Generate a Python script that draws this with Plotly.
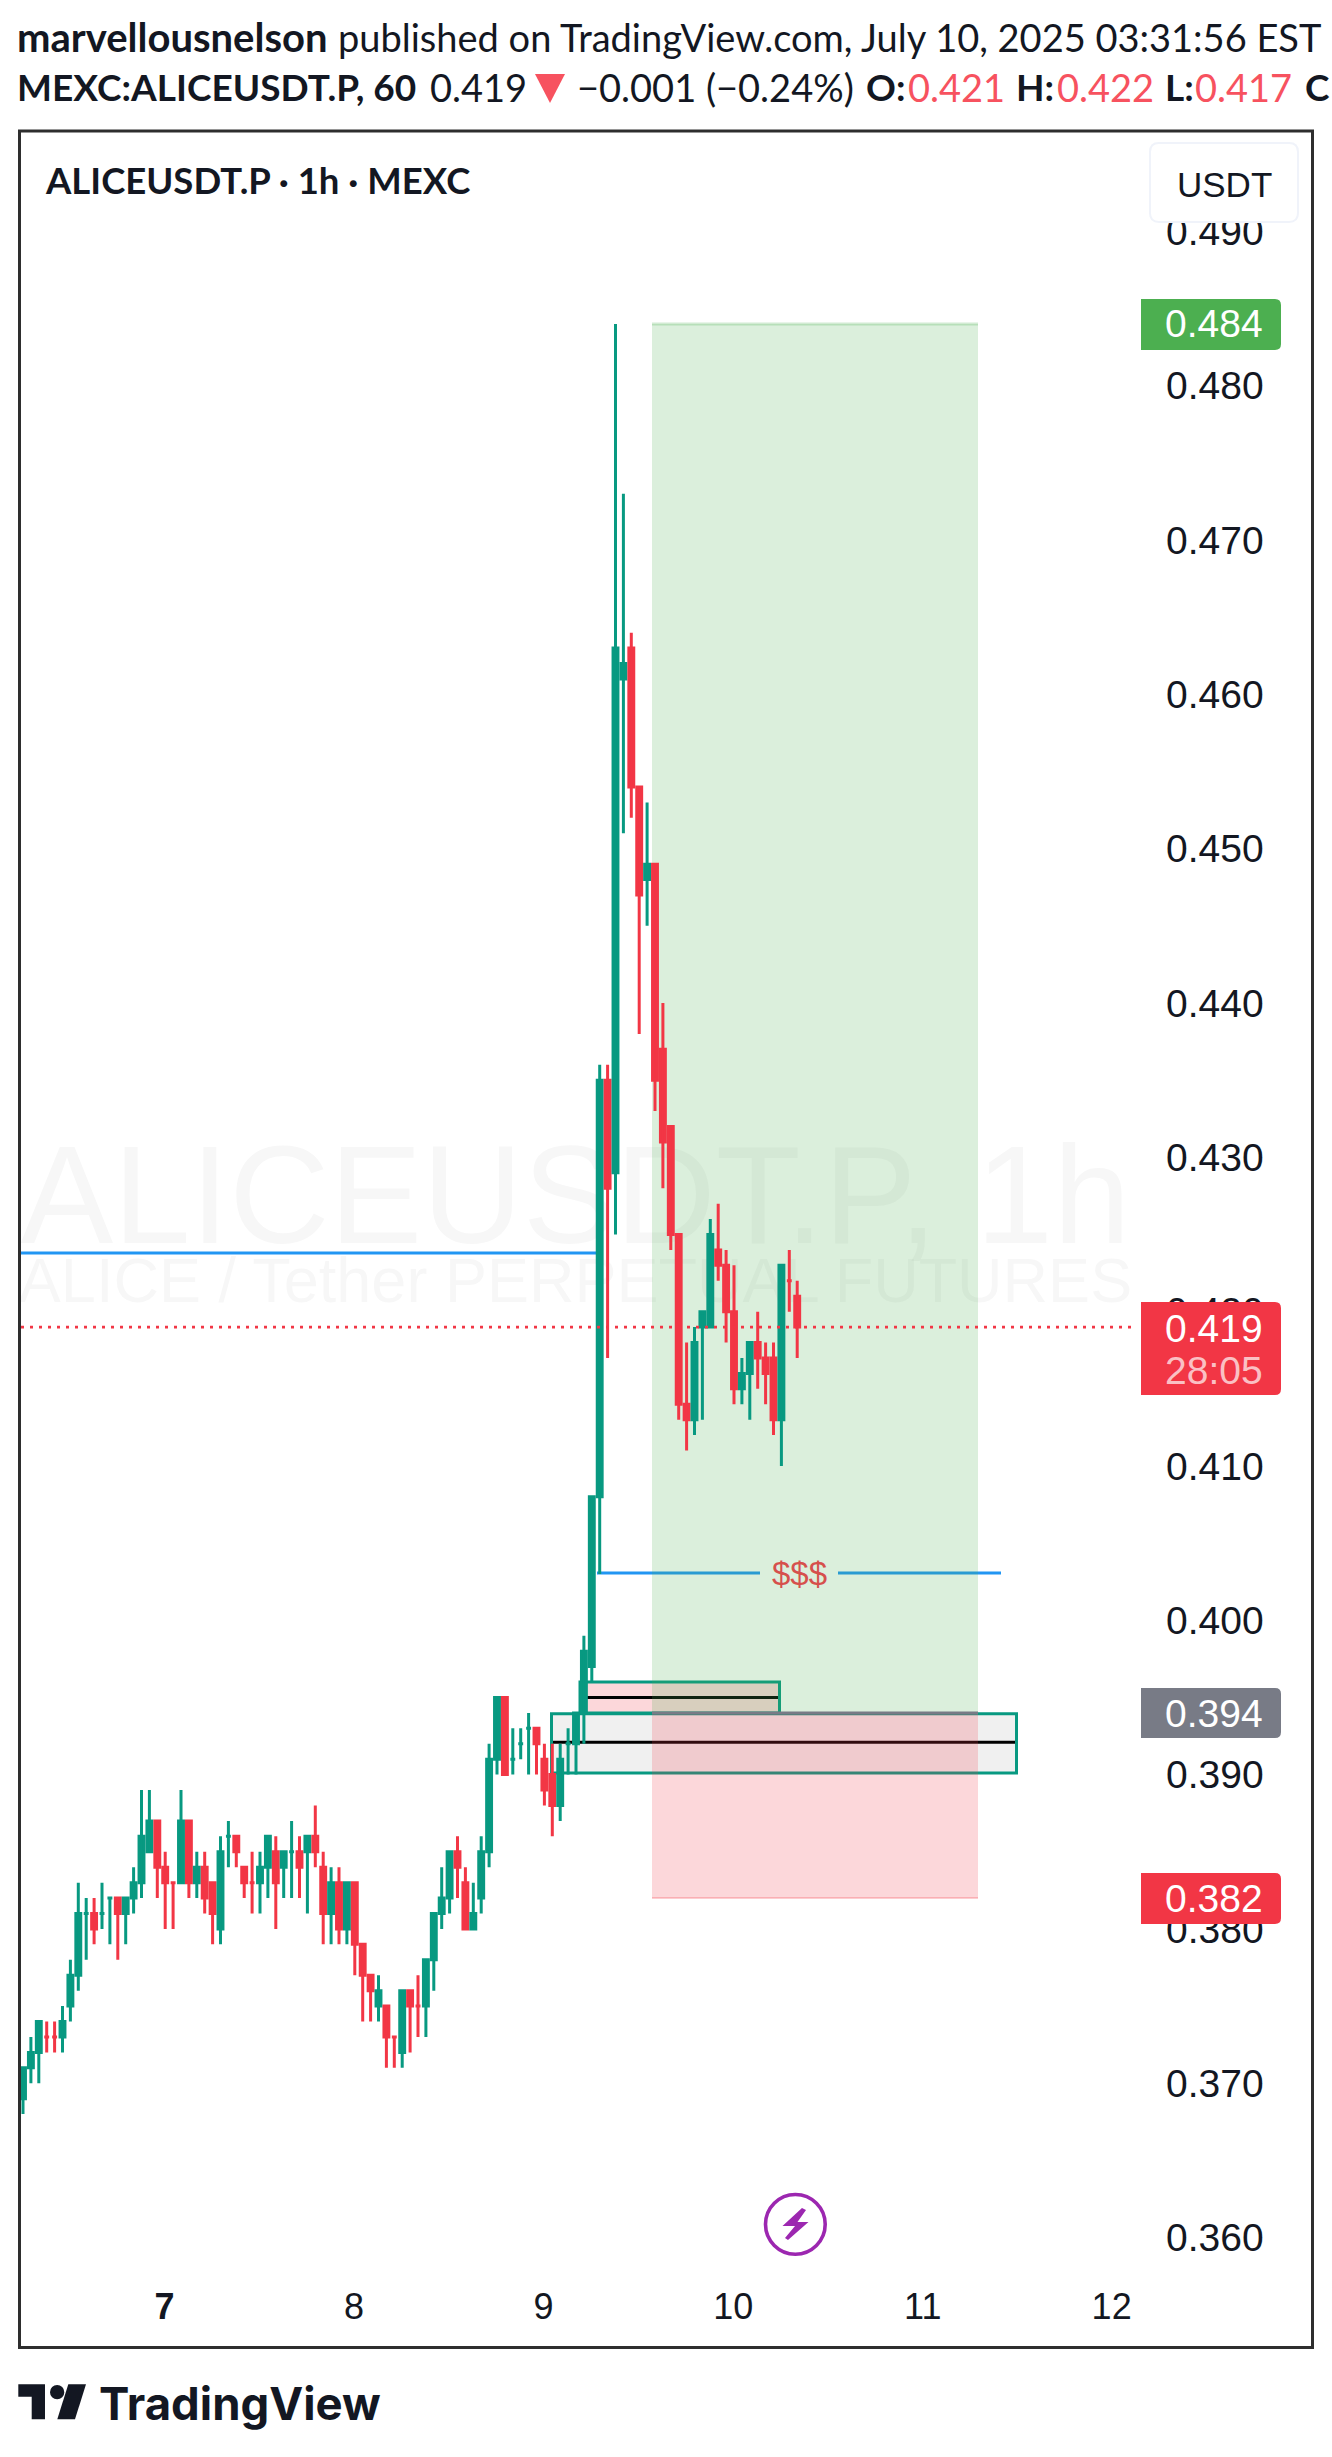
import plotly.graph_objects as go

W, H = 1332, 2457

opens = [0.369,0.371,0.372,0.373,0.373,0.373,0.375,0.377,0.381,0.381,0.381,0.382,0.382,0.381,0.382,0.383,0.385,0.387,0.384,0.383,
         0.383,0.387,0.383,0.384,0.383,0.380,0.386,0.386,0.384,0.383,0.383,0.384,0.385,0.384,0.385,0.385,0.385,0.386,0.384,0.381,
         0.383,0.380,0.383,0.379,0.377,0.375,0.375,0.373,0.372,0.376,0.375,0.375,0.378,0.381,0.382,0.385,0.383,0.380,0.382,0.385,
         0.391,0.395,0.391,0.392,0.393,0.393,0.391,0.390,0.388,0.392,0.392,0.394,0.397,0.408,0.435,0.429,0.461,0.463,0.454,0.448,
         0.449,0.437,0.432,0.425,0.414,0.413,0.419,0.419,0.424,0.423,0.420,0.415,0.416,0.418,0.417,0.417,0.413,0.422,0.421]
highs = [0.371,0.373,0.374,0.374,0.374,0.375,0.378,0.383,0.382,0.382,0.383,0.382,0.382,0.382,0.384,0.389,0.389,0.387,0.385,0.383,
         0.389,0.387,0.385,0.385,0.383,0.386,0.387,0.386,0.384,0.385,0.385,0.386,0.386,0.385,0.387,0.386,0.386,0.388,0.385,0.384,
         0.384,0.383,0.383,0.379,0.377,0.377,0.375,0.373,0.376,0.376,0.377,0.378,0.381,0.384,0.385,0.386,0.384,0.383,0.386,0.392,
         0.395,0.395,0.393,0.393,0.394,0.393,0.392,0.392,0.392,0.393,0.394,0.399,0.408,0.436,0.436,0.484,0.473,0.464,0.454,0.453,
         0.449,0.440,0.432,0.425,0.418,0.419,0.420,0.426,0.427,0.424,0.423,0.417,0.418,0.420,0.418,0.418,0.423,0.424,0.422]
lows = [0.368,0.370,0.370,0.372,0.372,0.372,0.374,0.376,0.378,0.379,0.380,0.379,0.378,0.379,0.381,0.382,0.385,0.382,0.380,0.380,
        0.383,0.382,0.382,0.381,0.379,0.379,0.384,0.384,0.382,0.381,0.381,0.382,0.380,0.382,0.382,0.382,0.381,0.384,0.379,0.379,
        0.379,0.379,0.377,0.374,0.374,0.374,0.371,0.371,0.371,0.372,0.373,0.373,0.376,0.380,0.381,0.382,0.380,0.380,0.381,0.384,
        0.390,0.390,0.390,0.391,0.390,0.390,0.388,0.386,0.387,0.390,0.390,0.392,0.396,0.403,0.417,0.425,0.451,0.452,0.438,0.445,
        0.433,0.428,0.424,0.413,0.411,0.412,0.413,0.419,0.422,0.418,0.414,0.414,0.413,0.415,0.414,0.412,0.410,0.420,0.417]
closes = [0.371,0.372,0.374,0.373,0.373,0.374,0.377,0.381,0.381,0.380,0.381,0.382,0.381,0.382,0.383,0.386,0.387,0.384,0.383,0.383,
          0.387,0.383,0.384,0.382,0.381,0.385,0.386,0.385,0.383,0.383,0.384,0.386,0.383,0.385,0.385,0.384,0.386,0.385,0.381,0.383,
          0.380,0.383,0.379,0.377,0.376,0.376,0.373,0.373,0.376,0.375,0.375,0.378,0.381,0.382,0.385,0.384,0.380,0.381,0.385,0.391,
          0.395,0.390,0.391,0.392,0.393,0.392,0.389,0.388,0.391,0.392,0.394,0.398,0.408,0.435,0.428,0.463,0.462,0.454,0.447,0.449,
          0.435,0.431,0.425,0.414,0.413,0.418,0.420,0.425,0.423,0.420,0.415,0.416,0.418,0.417,0.416,0.413,0.423,0.422,0.419]
bars = list(range(len(opens)))

price_ticks = [0.36,0.37,0.38,0.39,0.40,0.41,0.42,0.43,0.44,0.45,0.46,0.47,0.48,0.49]
day_ticks = [17.9,41.9,65.9,89.9,113.9,137.8]
day_labels = ["<b>7</b>","8","9","10","11","12"]

GREEN, RED, BLUE, GRAY, INK = "#089981", "#f23645", "#2196f3", "#787b86", "#131722"
SANS, HEAD = "Liberation Sans", "Lato"

def fx(p): return p / W
def fy(p): return 1 - p / H

# pane geometry in pixels
L, R, T, B = 21, 1140, 132, 2274
x_of = lambda px: (px - 23) / 7.9
y_of = lambda py: 0.400 + (1620.3 - py) / 15432

fig = go.Figure(go.Candlestick(
    x=bars, open=opens, high=highs, low=lows, close=closes,
    whiskerwidth=0,
    increasing=dict(line=dict(color=GREEN, width=3), fillcolor=GREEN),
    decreasing=dict(line=dict(color=RED, width=3), fillcolor=RED),
    showlegend=False, hoverinfo="skip"))

def rect(x0, x1, y0, y1, fill, line=None, lw=0, layer="below"):
    return dict(type="rect", xref="x", yref="y", x0=x0, x1=x1, y0=y0, y1=y1, layer=layer,
                fillcolor=fill, line=dict(color=line or "rgba(0,0,0,0)", width=lw))

def hline(x0, x1, y, color, lw, dash="solid", layer="below"):
    return dict(type="line", xref="x", yref="y", x0=x0, x1=x1, y0=y, y1=y, layer=layer,
                line=dict(color=color, width=lw, dash=dash))

def poly(points, fill):
    d = "M" + " L".join(f"{fx(a):.5f},{fy(b):.5f}" for a, b in points) + " Z"
    return dict(type="path", xref="paper", yref="paper", path=d, fillcolor=fill, line=dict(width=0), layer="above")

def tag(x0, x1, y0, y1, fill, r=6):
    a, b, c, d = fx(x0), fx(x1), fy(y0), fy(y1)
    rx, ry = r / W, r / H
    path = (f"M{a:.5f},{c:.5f} L{b-rx:.5f},{c:.5f} Q{b:.5f},{c:.5f} {b:.5f},{c-ry:.5f} "
            f"L{b:.5f},{d+ry:.5f} Q{b:.5f},{d:.5f} {b-rx:.5f},{d:.5f} L{a:.5f},{d:.5f} Z")
    return dict(type="path", xref="paper", yref="paper", path=path, fillcolor=fill, line=dict(width=0), layer="above")

def button(x0, x1, y0, y1, r=9):
    a, b, c, d = fx(x0), fx(x1), fy(y0), fy(y1)
    rx, ry = r / W, r / H
    path = (f"M{a+rx:.5f},{c:.5f} L{b-rx:.5f},{c:.5f} Q{b:.5f},{c:.5f} {b:.5f},{c-ry:.5f} "
            f"L{b:.5f},{d+ry:.5f} Q{b:.5f},{d:.5f} {b-rx:.5f},{d:.5f} L{a+rx:.5f},{d:.5f} "
            f"Q{a:.5f},{d:.5f} {a:.5f},{d+ry:.5f} L{a:.5f},{c-ry:.5f} Q{a:.5f},{c:.5f} {a+rx:.5f},{c:.5f} Z")
    return dict(type="path", xref="paper", yref="paper", path=path, fillcolor="#ffffff",
                line=dict(color="#f0f3fa", width=2), layer="above")

def watermark(text, y0, y1, size):
    return dict(type="rect", xref="paper", yref="paper", x0=fx(L), x1=fx(1130), y0=fy(y1), y1=fy(y0),
                layer="below", line=dict(width=0), fillcolor="rgba(0,0,0,0)",
                label=dict(text=text, textposition="middle center",
                           font=dict(family=SANS, size=size, color="rgba(19,23,34,0.035)")))

POS_L, POS_R = 652, 978
shapes = [
    watermark("ALICEUSDT.P, 1h", 1130, 1232, 139),
    watermark("ALICE / Tether PERPETUAL FUTURES", 1251, 1297, 63),
    hline(x_of(L), x_of(598), y_of(1253), BLUE, 3),
    hline(x_of(597), x_of(760), y_of(1573), BLUE, 3),
    hline(x_of(838), x_of(1001), y_of(1573), BLUE, 3),
    rect(x_of(551.5), x_of(1016.5), 0.3901, 0.39395, "#f0f0f0", GREEN, 3),
    hline(x_of(553), x_of(1015), 0.39209, "#000000", 3),
    rect(x_of(580), x_of(779.5), 0.394, 0.3960, "rgba(242,54,69,0.2)", GREEN, 3),
    hline(x_of(582), x_of(778), 0.395, "#000000", 3),
    rect(x_of(POS_L), x_of(POS_R), 0.394, 0.484, "rgba(76,175,80,0.2)"),
    rect(x_of(POS_L), x_of(POS_R), 0.382, 0.394, "rgba(242,54,69,0.2)"),
    hline(x_of(POS_L), x_of(POS_R), 0.484, "rgba(76,175,80,0.25)", 3),
    hline(x_of(POS_L), x_of(POS_R), 0.394, GRAY, 3),
    hline(x_of(POS_L), x_of(POS_R), 0.382, "rgba(242,54,69,0.25)", 2),
    hline(x_of(L), x_of(1132), 0.419, RED, 2.7, dash="3px,6px", layer="above"),
    tag(1141, 1281, 299, 350, "#4caf50"),
    tag(1141, 1281, 1302, 1395, RED),
    tag(1141, 1281, 1688, 1738, GRAY),
    tag(1141, 1281, 1873, 1924, RED),
    button(1150, 1298, 143, 222),
    dict(type="circle", xref="paper", yref="paper", x0=fx(765.5), x1=fx(825.2), y0=fy(2254.2), y1=fy(2194.5),
         fillcolor="rgba(0,0,0,0)", line=dict(color="#9c27b0", width=3.6), layer="above"),
    poly([(802,2208),(806,2210),(797.5,2222),(808.5,2222),(788,2240),(785,2238),(795,2226),(782.5,2226)], "#9c27b0"),
    poly([(535,74),(565,74),(550,103)], "#f7525f"),
    poly([(18.3,2384.3),(45,2384.3),(45,2419.3),(31.7,2419.3),(31.7,2396.7),(18.3,2396.7)], INK),
    poly([(68.3,2384.3),(86,2384.3),(75,2419.3),(57.3,2419.3)], INK),
    dict(type="circle", xref="paper", yref="paper", x0=fx(50), x1=fx(64.3), y0=fy(2399.3), y1=fy(2385),
         fillcolor=INK, line=dict(width=0), layer="above"),
    dict(type="rect", xref="paper", yref="paper", x0=fx(19.5), x1=fx(1312.5), y0=fy(2347.5), y1=fy(131),
         fillcolor="rgba(0,0,0,0)", line=dict(color="#2e2e2e", width=3), layer="above"),
]

def note(text, x, y, size, color=INK, family=HEAD, anchor="left"):
    return dict(text=text, xref="paper", yref="paper", x=fx(x), y=fy(y), xanchor=anchor, yanchor="middle",
                showarrow=False, font=dict(family=family, size=size, color=color), borderpad=0, borderwidth=0)

V = "#f7525f"
annotations = [
    note("<b>marvellousnelson</b>", 17, 37, 40),
    note("published on TradingView.com, July 10, 2025 03:31:56 EST", 338, 37, 38),
    note("<b>MEXC:ALICEUSDT.P, 60</b>", 17, 87, 37),
    note("0.419", 430, 87, 38),
    note("−0.001 (−0.24%)", 577, 87, 38),
    note("<b>O:</b>", 866, 87, 37),
    note("0.421", 908, 87, 38, V),
    note("<b>H:</b>", 1016, 87, 37),
    note("0.422", 1057, 87, 38, V),
    note("<b>L:</b>", 1165, 87, 37),
    note("0.417", 1195, 87, 38, V),
    note("<b>C</b>", 1305, 87, 37),
    note("<b>ALICEUSDT.P · 1h · MEXC</b>", 45, 180, 36.5),
    note("USDT", 1224, 184, 35, INK, SANS, "center"),
    note("0.484", 1214, 324, 39, "#ffffff", SANS, "center"),
    note("0.419", 1214, 1328, 39, "#ffffff", SANS, "center"),
    note("28:05", 1214, 1370, 39, "rgba(255,255,255,0.7)", SANS, "center"),
    note("0.394", 1214, 1713, 39, "#ffffff", SANS, "center"),
    note("0.382", 1214, 1898, 39, "#ffffff", SANS, "center"),
    note("$$$", 799, 1573, 33, "#d6504c", SANS, "center"),
    note("<b>TradingView</b>", 99, 2403, 45.5, INK, "Inter"),
]

fig.update_layout(
    width=W, height=H, margin=dict(l=0, r=0, t=0, b=0),
    paper_bgcolor="#ffffff", plot_bgcolor="#ffffff",
    boxgap=0.38, boxgroupgap=0, showlegend=False, dragmode=False,
    shapes=shapes, annotations=annotations,
    xaxis=dict(domain=[fx(L), fx(R)], range=[x_of(L), x_of(R)], rangeslider=dict(visible=False),
               tickmode="array", tickvals=day_ticks, ticktext=day_labels, showgrid=False, zeroline=False,
               showline=False, ticks="", ticklabelstandoff=8, tickfont=dict(family=SANS, size=36, color=INK)),
    yaxis=dict(domain=[1 - B / H, 1 - T / H], range=[y_of(B), y_of(T)], side="right",
               tickmode="array", tickvals=price_ticks, tickformat=".3f", showgrid=False, zeroline=False,
               showline=False, ticks="", ticklabelstandoff=25, tickfont=dict(family=SANS, size=39, color=INK)),
)

fig.write_html("out.html", post_script="document.body.style.margin='0';", config=dict(displayModeBar=False))
